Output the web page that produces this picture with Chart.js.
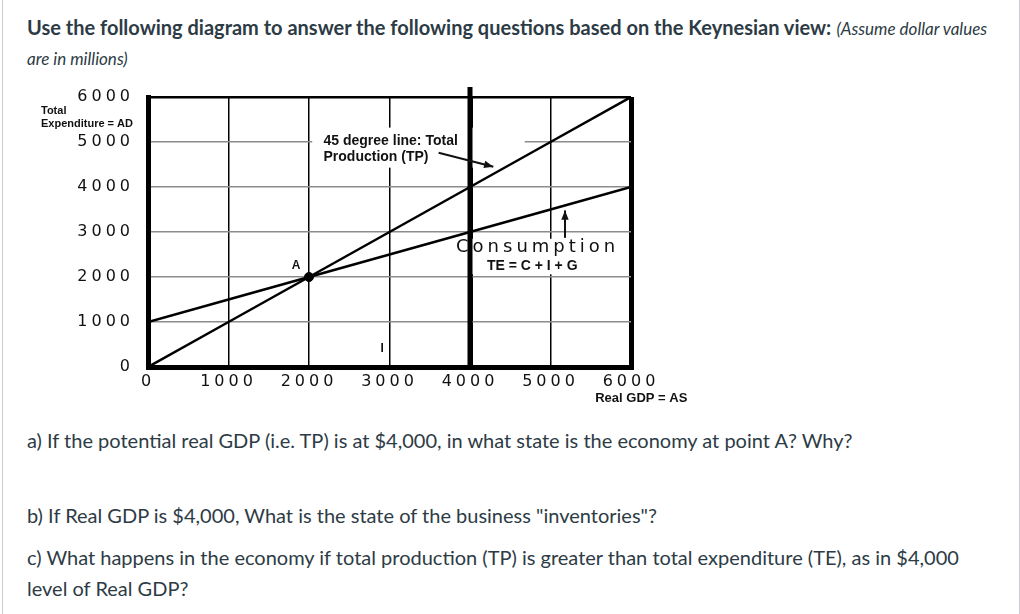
<!DOCTYPE html>
<html>
<head>
<meta charset="utf-8">
<script src="https://cdn.jsdelivr.net/npm/chart.js@4.4.1/dist/chart.umd.min.js"></script>
<style>
  html, body { margin: 0; padding: 0; background: #fff; }
  body { width: 1020px; height: 614px; position: relative; overflow: hidden; font-family: Lato, "Open Sans", sans-serif; color: #2d3b45; }
  .frame { position: absolute; left: 2px; top: 0; width: 1016px; height: 614px; border-left: 1px solid #c7cdd1; border-right: 1px solid #c7cdd1; }
  .title { position: absolute; left: 27px; top: 12px; width: 965px; margin: 0; font-size: 20px; line-height: 30px; }
  .title b { font-weight: 700; }
  .title i { font-size: 17px; line-height: 1; }
  .q { position: absolute; left: 27px; width: 960px; margin: 0; font-size: 20px; line-height: 31px; }
  #chart-wrap { position: absolute; left: 0; top: 80px; width: 720px; height: 330px; }
</style>
</head>
<body>
<div class="frame"></div>
<p class="title"><b>Use the following diagram to answer the following questions based on the Keynesian view:</b> <i>(Assume dollar values are in millions)</i></p>
<div id="chart-wrap"><canvas id="keynes-chart"></canvas></div>
<p class="q" style="top:425px">a) If the potential real GDP (i.e. TP) is at $4,000, in what state is the economy at point A? Why?</p>
<p class="q" style="top:500px">b) If Real GDP is $4,000, What is the state of the business "inventories"?</p>
<p class="q" style="top:542px">c) What happens in the economy if total production (TP) is greater than total expenditure (TE), as in $4,000 level of Real GDP?</p>

<script>
// Real GDP on the x axis, expenditure on the y axis
const realGdp = [0, 1000, 2000, 3000, 4000, 5000, 6000];
const totalProduction = [0, 1000, 2000, 3000, 4000, 5000, 6000];
const consumption = [1000, 1500, 2000, 2500, 3000, 3500, 4000];
const pointA = { x: 2000, y: 2000 };
const axisTicks = [0, 1000, 2000, 3000, 4000, 5000, 6000];

const TICK_SPACING = '4px';

const toPoints = (xs, ys) => xs.map((x, i) => ({ x: x, y: ys[i] }));

function arrow(ctx, x1, y1, x2, y2) {
  const ang = Math.atan2(y2 - y1, x2 - x1);
  ctx.beginPath();
  ctx.moveTo(x1, y1);
  ctx.lineTo(x2, y2);
  ctx.stroke();
  ctx.beginPath();
  ctx.moveTo(x2, y2);
  ctx.lineTo(x2 - 10 * Math.cos(ang - 0.38), y2 - 10 * Math.sin(ang - 0.38));
  ctx.lineTo(x2 - 10 * Math.cos(ang + 0.38), y2 - 10 * Math.sin(ang + 0.38));
  ctx.closePath();
  ctx.fill();
}

// white label boxes + the heavy 4000 line, drawn between grid and lines
const backdrop = {
  id: 'backdrop',
  beforeDraw(chart) {
    chart.ctx.letterSpacing = TICK_SPACING;
  },
  beforeDatasetsDraw(chart) {
    const { ctx, scales: { x, y }, chartArea } = chart;
    ctx.save();
    ctx.letterSpacing = '0px';
    ctx.fillStyle = '#fff';
    // box behind the 45 degree label
    ctx.fillRect(x.getPixelForValue(2040), y.getPixelForValue(5320), x.getPixelForValue(4680) - x.getPixelForValue(2040), y.getPixelForValue(4430) - y.getPixelForValue(5320));
    // box behind the consumption label
    ctx.fillRect(x.getPixelForValue(3850), y.getPixelForValue(2850), x.getPixelForValue(5830) - x.getPixelForValue(3850), y.getPixelForValue(2060) - y.getPixelForValue(2850));
    // heavy line at 4000, running past the top
    const px = x.getPixelForValue(4000);
    ctx.strokeStyle = '#000';
    ctx.lineWidth = 5;
    ctx.beginPath();
    ctx.moveTo(px, chartArea.top - 10);
    ctx.lineTo(px, chartArea.bottom);
    ctx.stroke();
    ctx.restore();
  },
  afterDraw(chart) {
    const { ctx, scales: { x, y }, chartArea } = chart;
    ctx.save();
    ctx.letterSpacing = '0px';
    ctx.fillStyle = '#111';
    ctx.strokeStyle = '#111';
    ctx.textBaseline = 'middle';

    // axis names
    ctx.textAlign = 'left';
    ctx.font = 'bold 11px "Liberation Sans", Arial, sans-serif';
    ctx.fillText('Total', chartArea.left - 107, y.getPixelForValue(5700));
    ctx.fillText('Expenditure = AD', chartArea.left - 107, y.getPixelForValue(5400));
    ctx.font = 'bold 13px "Liberation Sans", Arial, sans-serif';
    ctx.textAlign = 'right';
    ctx.fillText('Real GDP = AS', x.getPixelForValue(6700), chartArea.bottom + 31);

    // 45 degree label
    ctx.textAlign = 'left';
    ctx.font = 'bold 14px "Liberation Sans", Arial, sans-serif';
    ctx.fillText('45 degree line: Total', x.getPixelForValue(2180), y.getPixelForValue(5030));
    ctx.fillText('Production (TP)', x.getPixelForValue(2180), y.getPixelForValue(4670));
    ctx.lineWidth = 2;
    arrow(ctx, x.getPixelForValue(3610), y.getPixelForValue(4760), x.getPixelForValue(4290), y.getPixelForValue(4450));

    // consumption label
    ctx.textAlign = 'center';
    ctx.font = '18px "DejaVu Sans"';
    ctx.letterSpacing = '4px';
    ctx.fillText('Consumption', x.getPixelForValue(4840), y.getPixelForValue(2650));
    ctx.letterSpacing = '0px';
    ctx.font = 'bold 14px "Liberation Sans", Arial, sans-serif';
    ctx.textAlign = 'left';
    ctx.fillText('TE = C + I + G', x.getPixelForValue(4210), y.getPixelForValue(2250));
    arrow(ctx, x.getPixelForValue(5180), y.getPixelForValue(2870), x.getPixelForValue(5180), y.getPixelForValue(3480));

    // point A and the stray mark
    ctx.textAlign = 'center';
    ctx.font = 'bold 12px "Liberation Sans", Arial, sans-serif';
    ctx.fillText('A', x.getPixelForValue(1840), y.getPixelForValue(2260));
    ctx.fillText('I', x.getPixelForValue(2910), y.getPixelForValue(410));
    ctx.restore();
  }
};

const gridColorY = (c) => (c.tick && (c.tick.value === 0 || c.tick.value === 6000)) ? '#000' : '#8c8c8c';
const gridWidthY = (c) => {
  if (!c.tick) return 1.5;
  if (c.tick.value === 0) return 5;
  if (c.tick.value === 6000) return 2.5;
  return 1.5;
};
const gridWidthX = (c) => {
  if (!c.tick) return 1.5;
  return [0, 4000, 6000].includes(c.tick.value) ? 5 : 1.5;
};

new Chart(document.getElementById('keynes-chart'), {
  type: 'scatter',
  data: {
    datasets: [
      {
        label: 'Total Production (TP)',
        data: toPoints(realGdp, totalProduction),
        showLine: true,
        borderColor: '#000',
        borderWidth: 2.5,
        pointRadius: 0
      },
      {
        label: 'Consumption TE = C + I + G',
        data: toPoints(realGdp, consumption),
        showLine: true,
        borderColor: '#000',
        borderWidth: 2.5,
        pointRadius: 0
      },
      {
        label: 'A',
        data: [pointA],
        backgroundColor: '#000',
        borderColor: '#000',
        pointRadius: 4.5
      }
    ]
  },
  options: {
    responsive: true,
    maintainAspectRatio: false,
    animation: false,
    layout: { padding: { left: 0, top: 17, right: 89, bottom: 13 } },
    plugins: {
      legend: { display: false },
      tooltip: { enabled: false }
    },
    scales: {
      x: {
        type: 'linear',
        min: 0,
        max: 6000,
        afterFit(scale) {
          scale.height = 30;
          scale.paddingLeft = 0;
          scale.paddingRight = 0;
        },
        afterBuildTicks(scale) { scale.ticks = axisTicks.map(v => ({ value: v })); },
        grid: { color: '#000', lineWidth: gridWidthX, drawTicks: false },
        border: { display: true, color: '#000', width: 5 },
        ticks: {
          padding: 5,
          color: '#111',
          font: { family: 'DejaVu Sans', size: 16 },
          maxRotation: 0,
          callback: (v) => String(v)
        }
      },
      y: {
        type: 'linear',
        min: 0,
        max: 6000,
        afterFit(scale) {
          scale.width = 148;
          scale.paddingTop = 0;
          scale.paddingBottom = 0;
        },
        afterBuildTicks(scale) { scale.ticks = axisTicks.map(v => ({ value: v })); },
        grid: { color: gridColorY, lineWidth: gridWidthY, drawTicks: false },
        border: { display: true, color: '#000', width: 5 },
        ticks: {
          padding: 14,
          color: '#111',
          font: { family: 'DejaVu Sans', size: 16 },
          callback: (v) => String(v)
        }
      }
    }
  },
  plugins: [backdrop]
});
</script>
</body>
</html>
